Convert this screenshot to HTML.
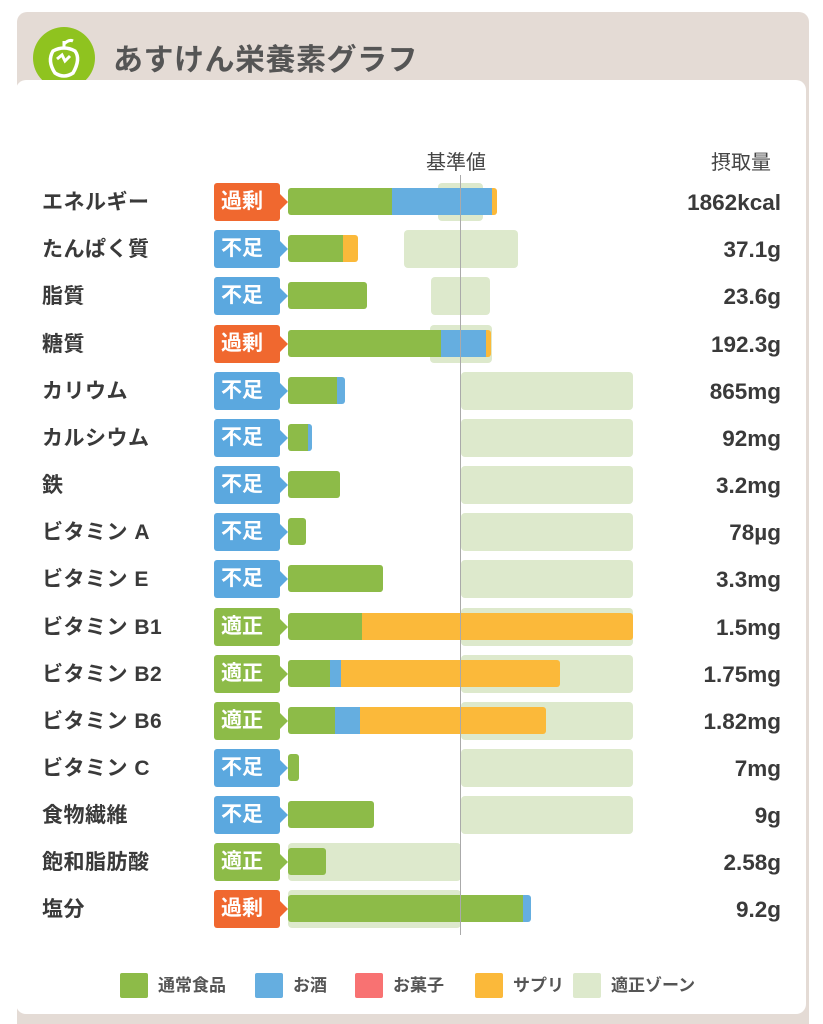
<!DOCTYPE html>
<html><head><meta charset="utf-8"><style>
*{margin:0;padding:0;box-sizing:border-box}
html,body{width:823px;height:1024px;overflow:hidden}
body{background:#fff;position:relative;font-family:"Liberation Sans","Noto Sans CJK JP",sans-serif;color:#3a3a3a}
.card{position:absolute;left:17px;top:12px;width:792px;height:1030px;background:#e4dbd5;border-radius:10px}
.panel{position:absolute;left:16px;top:80px;width:790px;height:934px;background:#fff;border-radius:10px}
.a{position:absolute}
.lbl{position:absolute;left:42px;font-size:21px;font-weight:bold;line-height:24px;color:#3a3a3a;letter-spacing:0.5px}
.val{position:absolute;right:42px;font-size:22.5px;font-weight:bold;line-height:24px;color:#3a3a3a;text-align:right}
.bd{position:absolute;left:214px;width:66px;height:38px;border-radius:3px;color:#fff;font-size:21px;font-weight:bold;line-height:38px;padding-left:7px}
.bd:after{content:"";position:absolute;right:-8px;top:11px;border-top:8px solid transparent;border-bottom:8px solid transparent;border-left:8px solid currentColor}
.r{background:#f0682f}.r:after{border-left-color:#f0682f}
.b{background:#5ba8df}.b:after{border-left-color:#5ba8df}
.g{background:#8dbb48}.g:after{border-left-color:#8dbb48}
.z{position:absolute;height:38px;background:#dde9cc;border-radius:4px}
.bar{position:absolute;height:27px;border-radius:3px;overflow:hidden;display:flex}
.bar i{display:block;height:100%}
.G{background:#8dbb48}.B{background:#65aee0}.O{background:#fbb93a}
.lg{position:absolute;top:973px;width:28px;height:25px;border-radius:2px}
.lt{position:absolute;top:974px;font-size:17px;font-weight:bold;color:#555;line-height:24px}
</style></head><body>
<div class="card"></div>
<div class="a" style="left:33px;top:27px;width:62px;height:62px;border-radius:50%;background:#8fc31f"></div>
<svg class="a" style="left:33px;top:27px" width="62" height="62"><path d="M31 14 v6 M31 17 q5 -5 9 -3" stroke="#fff" stroke-width="3" fill="none"/><path d="M20 24 q11 -6 22 0 q6 8 -2 22 q-9 6 -18 0 q-8 -12 -2 -22z" stroke="#fff" stroke-width="3.5" fill="none"/><path d="M24 32 l5 -4 l3 6 l5 -5" stroke="#fff" stroke-width="3" fill="none"/></svg>
<div class="a" style="left:113px;top:35px;font-size:30px;font-weight:bold;color:#555;letter-spacing:0.5px">あすけん栄養素グラフ</div>
<div class="panel"></div>

<div class="a" style="left:426px;top:146px;font-size:20px;color:#444">基準値</div>
<div class="a" style="left:711px;top:146px;font-size:20px;color:#444">摂取量</div>

<div class="z" style="left:438px;width:45px;top:183px"></div>
<div class="z" style="left:404px;width:114px;top:230px"></div>
<div class="z" style="left:431px;width:59px;top:277px"></div>
<div class="z" style="left:430px;width:62px;top:325px"></div>
<div class="z" style="left:461px;width:172px;top:372px"></div>
<div class="z" style="left:461px;width:172px;top:419px"></div>
<div class="z" style="left:461px;width:172px;top:466px"></div>
<div class="z" style="left:461px;width:172px;top:513px"></div>
<div class="z" style="left:461px;width:172px;top:560px"></div>
<div class="z" style="left:461px;width:172px;top:608px"></div>
<div class="z" style="left:461px;width:172px;top:655px"></div>
<div class="z" style="left:461px;width:172px;top:702px"></div>
<div class="z" style="left:461px;width:172px;top:749px"></div>
<div class="z" style="left:461px;width:172px;top:796px"></div>
<div class="z" style="left:288px;width:173px;top:843px"></div>
<div class="z" style="left:288px;width:173px;top:890px"></div>

<div class="bar" style="left:288px;top:188px"><i class="G" style="width:104px"></i><i class="B" style="width:100px"></i><i class="O" style="width:5px"></i></div>
<div class="bar" style="left:288px;top:235px"><i class="G" style="width:55px"></i><i class="O" style="width:15px"></i></div>
<div class="bar" style="left:288px;top:282px"><i class="G" style="width:79px"></i></div>
<div class="bar" style="left:288px;top:330px"><i class="G" style="width:153px"></i><i class="B" style="width:45px"></i><i class="O" style="width:5px"></i></div>
<div class="bar" style="left:288px;top:377px"><i class="G" style="width:49px"></i><i class="B" style="width:8px"></i></div>
<div class="bar" style="left:288px;top:424px"><i class="G" style="width:20px"></i><i class="B" style="width:4px"></i></div>
<div class="bar" style="left:288px;top:471px"><i class="G" style="width:52px"></i></div>
<div class="bar" style="left:288px;top:518px"><i class="G" style="width:18px"></i></div>
<div class="bar" style="left:288px;top:565px"><i class="G" style="width:95px"></i></div>
<div class="bar" style="left:288px;top:613px"><i class="G" style="width:74px"></i><i class="O" style="width:271px"></i></div>
<div class="bar" style="left:288px;top:660px"><i class="G" style="width:42px"></i><i class="B" style="width:11px"></i><i class="O" style="width:219px"></i></div>
<div class="bar" style="left:288px;top:707px"><i class="G" style="width:47px"></i><i class="B" style="width:25px"></i><i class="O" style="width:186px"></i></div>
<div class="bar" style="left:288px;top:754px"><i class="G" style="width:11px"></i></div>
<div class="bar" style="left:288px;top:801px"><i class="G" style="width:86px"></i></div>
<div class="bar" style="left:288px;top:848px"><i class="G" style="width:38px"></i></div>
<div class="bar" style="left:288px;top:895px"><i class="G" style="width:235px"></i><i class="B" style="width:8px"></i></div>

<div class="a" style="left:460px;top:175px;width:1px;height:760px;background:#aaa"></div>

<div class="bd r" style="top:183px">過剰</div>
<div class="bd b" style="top:230px">不足</div>
<div class="bd b" style="top:277px">不足</div>
<div class="bd r" style="top:325px">過剰</div>
<div class="bd b" style="top:372px">不足</div>
<div class="bd b" style="top:419px">不足</div>
<div class="bd b" style="top:466px">不足</div>
<div class="bd b" style="top:513px">不足</div>
<div class="bd b" style="top:560px">不足</div>
<div class="bd g" style="top:608px">適正</div>
<div class="bd g" style="top:655px">適正</div>
<div class="bd g" style="top:702px">適正</div>
<div class="bd b" style="top:749px">不足</div>
<div class="bd b" style="top:796px">不足</div>
<div class="bd g" style="top:843px">適正</div>
<div class="bd r" style="top:890px">過剰</div>

<div class="lbl" style="top:191px">エネルギー</div>
<div class="lbl" style="top:238px">たんぱく質</div>
<div class="lbl" style="top:285px">脂質</div>
<div class="lbl" style="top:333px">糖質</div>
<div class="lbl" style="top:380px">カリウム</div>
<div class="lbl" style="top:427px">カルシウム</div>
<div class="lbl" style="top:474px">鉄</div>
<div class="lbl" style="top:521px">ビタミン A</div>
<div class="lbl" style="top:568px">ビタミン E</div>
<div class="lbl" style="top:616px">ビタミン B1</div>
<div class="lbl" style="top:663px">ビタミン B2</div>
<div class="lbl" style="top:710px">ビタミン B6</div>
<div class="lbl" style="top:757px">ビタミン C</div>
<div class="lbl" style="top:804px">食物繊維</div>
<div class="lbl" style="top:851px">飽和脂肪酸</div>
<div class="lbl" style="top:898px">塩分</div>

<div class="val" style="top:191px">1862kcal</div>
<div class="val" style="top:238px">37.1g</div>
<div class="val" style="top:285px">23.6g</div>
<div class="val" style="top:333px">192.3g</div>
<div class="val" style="top:380px">865mg</div>
<div class="val" style="top:427px">92mg</div>
<div class="val" style="top:474px">3.2mg</div>
<div class="val" style="top:521px">78µg</div>
<div class="val" style="top:568px">3.3mg</div>
<div class="val" style="top:616px">1.5mg</div>
<div class="val" style="top:663px">1.75mg</div>
<div class="val" style="top:710px">1.82mg</div>
<div class="val" style="top:757px">7mg</div>
<div class="val" style="top:804px">9g</div>
<div class="val" style="top:851px">2.58g</div>
<div class="val" style="top:898px">9.2g</div>

<div class="lg" style="left:120px;background:#8dbb48"></div><div class="lt" style="left:158px">通常食品</div>
<div class="lg" style="left:255px;background:#65aee0"></div><div class="lt" style="left:293px">お酒</div>
<div class="lg" style="left:355px;background:#f87272"></div><div class="lt" style="left:393px">お菓子</div>
<div class="lg" style="left:475px;background:#fbb93a"></div><div class="lt" style="left:513px">サプリ</div>
<div class="lg" style="left:573px;background:#dde9cc"></div><div class="lt" style="left:611px">適正ゾーン</div>
</body></html>
